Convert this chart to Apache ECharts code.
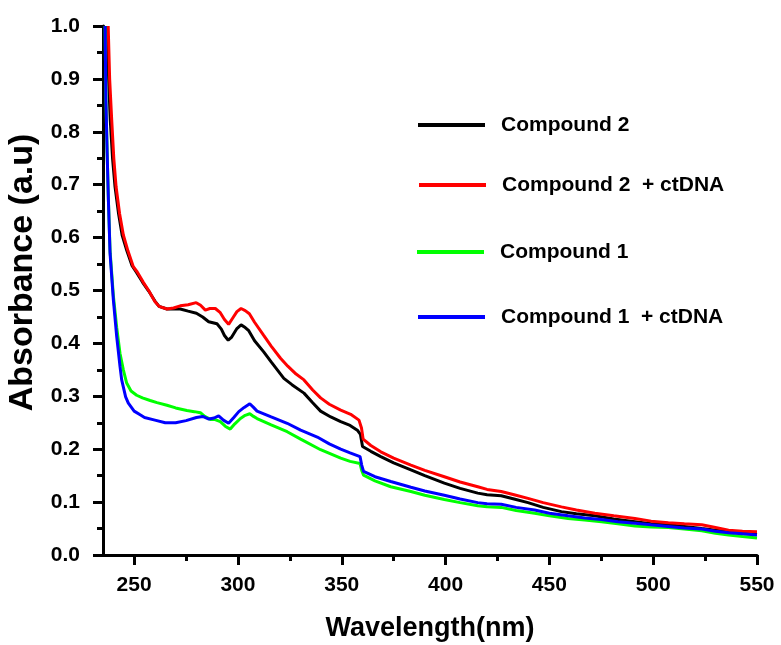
<!DOCTYPE html>
<html>
<head>
<meta charset="utf-8">
<script src="https://cdn.jsdelivr.net/npm/echarts@6/dist/echarts.min.js"></script>
<style>
html,body{margin:0;padding:0;background:#fff;}
#chart{width:781px;height:645px;}
</style>
</head>
<body>
<div id="chart"></div>
<script>
// ---- data (wavelength nm, absorbance a.u.) ----
const seriesNames = ['Compound 2', 'Compound 2  + ctDNA', 'Compound 1', 'Compound 1  + ctDNA'];

const compound2 = [[237,1.0],[237.7,0.9],[238.5,0.822],[239.6,0.75],[240.8,0.696],[242.5,0.645],[244.2,0.605],[246.5,0.575],[249,0.547],[251,0.535],[254,0.516],[257,0.499],[260,0.48],[262,0.47],[265.8,0.465],[272.2,0.465],[276,0.461],[280,0.457],[283,0.45],[285.9,0.441],[289.9,0.437],[292,0.427],[293.5,0.415],[295.3,0.406],[297,0.412],[299.5,0.428],[301.5,0.435],[303.5,0.43],[305.2,0.424],[308,0.405],[312.4,0.384],[316,0.365],[322.1,0.334],[326,0.322],[331.8,0.306],[336,0.288],[339.8,0.272],[344.7,0.261],[349.5,0.252],[354,0.245],[357.5,0.236],[359,0.228],[360,0.205],[364,0.196],[368.8,0.186],[375,0.174],[383.3,0.161],[390,0.15],[399.4,0.136],[407,0.126],[415.5,0.117],[420,0.114],[426.8,0.112],[433,0.106],[439.7,0.099],[447,0.09],[455.8,0.082],[463,0.078],[471.9,0.074],[481,0.068],[491.2,0.063],[499,0.059],[507.3,0.057],[515,0.054],[523.4,0.05],[530,0.047],[536.3,0.044],[543,0.041],[550,0.039]];

const compound2DNA = [[237.5,1.0],[238.2,0.9],[239.2,0.822],[240.2,0.75],[241.3,0.696],[243,0.645],[244.8,0.605],[247,0.575],[249.6,0.545],[251.5,0.535],[254.5,0.515],[257,0.5],[260,0.479],[262,0.47],[265.8,0.465],[269,0.467],[272.2,0.471],[276,0.473],[279.9,0.477],[282,0.472],[284.3,0.463],[286.5,0.466],[289.1,0.466],[291.5,0.458],[293.5,0.445],[295.5,0.436],[297.5,0.448],[299.5,0.46],[301.5,0.466],[303.5,0.462],[305.5,0.456],[308,0.44],[312.4,0.415],[316,0.395],[320.5,0.372],[324,0.357],[328,0.342],[331.8,0.331],[336,0.312],[339.8,0.297],[344,0.285],[349.5,0.274],[354.3,0.266],[358.3,0.255],[359.5,0.24],[360.3,0.219],[364,0.207],[368.8,0.195],[375,0.183],[383.3,0.17],[390,0.16],[399.4,0.148],[407,0.138],[415.5,0.129],[420,0.124],[426.8,0.12],[433,0.114],[439.7,0.107],[447,0.099],[455.8,0.091],[463,0.085],[471.9,0.079],[481,0.074],[491.2,0.069],[499,0.064],[507.3,0.061],[515,0.059],[523.4,0.057],[530,0.052],[536.3,0.047],[543,0.045],[550,0.044]];

const compound1 = [[236,1.0],[236.4,0.86],[237,0.76],[237.6,0.671],[238.4,0.575],[240,0.49],[241.6,0.43],[243.2,0.381],[244.8,0.35],[246.4,0.325],[248.5,0.31],[251.2,0.302],[254,0.297],[257.7,0.292],[261,0.288],[265.8,0.283],[270,0.278],[275.4,0.273],[279,0.271],[281.9,0.269],[284,0.262],[287,0.256],[289,0.256],[291.5,0.252],[294,0.243],[296.3,0.238],[298.5,0.248],[301.2,0.258],[303.5,0.264],[305.7,0.267],[307.5,0.262],[309.2,0.258],[316,0.246],[323.7,0.233],[330.2,0.219],[339.8,0.199],[349.5,0.183],[354,0.177],[358.8,0.173],[359.6,0.16],[360.5,0.151],[366,0.14],[373.6,0.129],[383.3,0.12],[390,0.113],[399.4,0.105],[407,0.099],[415.5,0.093],[420,0.091],[426.8,0.09],[434,0.084],[442.9,0.079],[450,0.074],[459,0.069],[467,0.066],[475.1,0.063],[483,0.059],[491.2,0.055],[499,0.053],[507.3,0.052],[515,0.049],[523.4,0.046],[530,0.041],[536.3,0.038],[543,0.035],[550,0.032]];

const compound1DNA = [[236,1.0],[236.4,0.86],[237,0.76],[237.6,0.671],[238.4,0.57],[240,0.482],[241.6,0.413],[243.2,0.356],[244,0.331],[245.9,0.299],[247.2,0.287],[250,0.272],[252.9,0.265],[255,0.26],[260,0.255],[265,0.25],[270,0.25],[275,0.254],[280,0.26],[283,0.262],[286,0.257],[288.5,0.259],[290.7,0.263],[293,0.255],[295.5,0.249],[298,0.26],[300.4,0.271],[303,0.279],[305.7,0.286],[307.5,0.279],[309.2,0.272],[316,0.261],[323.7,0.249],[330.2,0.236],[338.2,0.223],[344,0.21],[349.5,0.2],[354,0.193],[358.8,0.186],[359.6,0.17],[360.5,0.158],[366,0.148],[373.6,0.139],[383.3,0.128],[390,0.121],[399.4,0.113],[407,0.106],[415.5,0.099],[420,0.097],[426.8,0.096],[434,0.09],[442.9,0.085],[450,0.079],[459,0.074],[467,0.07],[475.1,0.067],[483,0.063],[491.2,0.06],[499,0.057],[507.3,0.054],[515,0.051],[523.4,0.049],[530,0.045],[536.3,0.042],[543,0.04],[550,0.038]];

const xMajorTicks = [250, 300, 350, 400, 450, 500, 550];
const xMinorTicks = [275, 325, 375, 425, 475, 525];
const yTicks = [0, 0.1, 0.2, 0.3, 0.4, 0.5, 0.6, 0.7, 0.8, 0.9, 1.0];

// ---- chart ----
const FONT = '"Liberation Sans", Arial, sans-serif';
const colors = ['#000000', '#ff0000', '#00ff00', '#0000ff'];
const dataSets = [compound2, compound2DNA, compound1, compound1DNA];
const legendTops = [113, 173, 240, 305];
const legendLefts = [418, 419, 417, 418];

const chart = echarts.init(document.getElementById('chart'), null, {renderer: 'canvas'});

const option = {
  backgroundColor: '#ffffff',
  animation: false,
  grid: {left: 103, right: 24, top: 26, bottom: 90, containLabel: false, outerBoundsMode: 'none'},
  legend: seriesNames.map((n, i) => ({
    data: [n],
    left: legendLefts[i],
    top: legendTops[i],
    padding: 0,
    icon: 'rect',
    itemWidth: 67,
    itemHeight: 4,
    textStyle: {fontFamily: FONT, fontWeight: 'bold', fontSize: 21, color: '#000', lineHeight: 24, padding: [0, 0, 0, 11]}
  })),
  xAxis: [{
    type: 'value', min: 235, max: 550,
    name: 'Wavelength(nm)', nameLocation: 'middle', nameGap: 60,
    nameTextStyle: {fontFamily: FONT, fontWeight: 'bold', fontSize: 27, color: '#000'},
    axisLine: {show: true, onZero: false, lineStyle: {color: '#000', width: 3}},
    axisTick: {show: true, inside: false, length: 10, lineStyle: {color: '#000', width: 3}, customValues: xMajorTicks},
    axisLabel: {show: true, margin: 20, fontFamily: FONT, fontWeight: 'bold', fontSize: 21, color: '#000', customValues: xMajorTicks},
    splitLine: {show: false}
  }, {
    type: 'value', min: 235, max: 550, position: 'bottom', offset: 0,
    axisLine: {show: false, onZero: false},
    axisTick: {show: true, inside: false, length: 6, lineStyle: {color: '#000', width: 3}, customValues: xMinorTicks},
    axisLabel: {show: false},
    splitLine: {show: false}
  }],
  yAxis: {
    type: 'value', min: 0, max: 1, interval: 0.1,
    name: 'Absorbance (a.u)', nameLocation: 'middle', nameGap: 63,
    nameTextStyle: {fontFamily: FONT, fontWeight: 'bold', fontSize: 34, color: '#000', padding: [0, 0, 0, 36]},
    axisLine: {show: true, onZero: false, lineStyle: {color: '#000', width: 3}},
    axisTick: {show: true, inside: false, length: 10, lineStyle: {color: '#000', width: 3}, customValues: yTicks},
    minorTick: {show: true, splitNumber: 2, length: 6, lineStyle: {color: '#000', width: 3}},
    axisLabel: {show: true, margin: 23, fontFamily: FONT, fontWeight: 'bold', fontSize: 21, color: '#000',
      customValues: yTicks, formatter: v => v.toFixed(1)},
    splitLine: {show: false},
    minorSplitLine: {show: false}
  },
  series: seriesNames.map((n, i) => ({
    name: n, type: 'line', xAxisIndex: 0, data: dataSets[i],
    showSymbol: false, symbol: 'none', clip: true,
    lineStyle: {color: colors[i], width: 3},
    itemStyle: {color: colors[i]}
  }))
};
chart.setOption(option);
</script>
</body>
</html>
